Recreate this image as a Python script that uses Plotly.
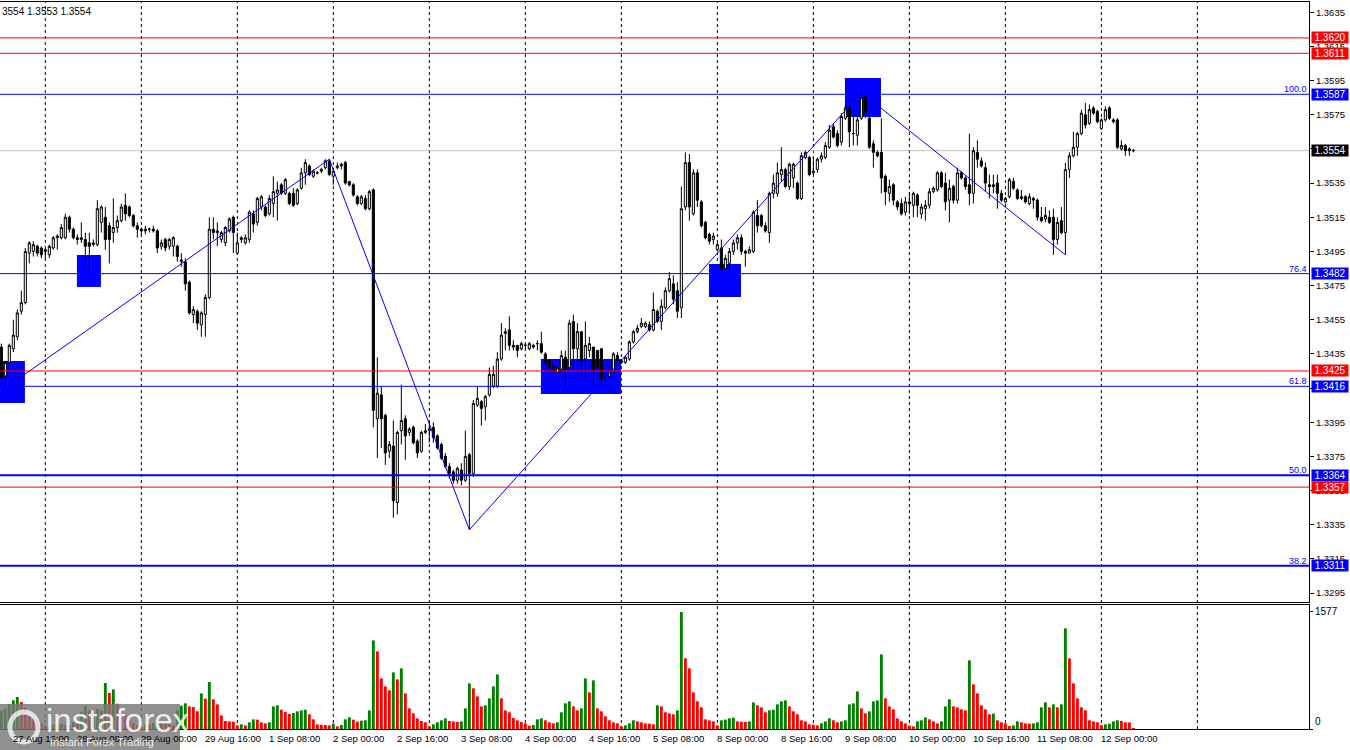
import pandas as pd
import plotly.graph_objects as go

# ---------------- data ----------------
# H1 bars, weekdays only (27 Aug 13:00 .. 12 Sep 08:00)
times = pd.date_range("2025-08-27 13:00", "2025-09-12 08:00", freq="h")
times = times[times.weekday < 5]

open_ = [1.3439,1.3422,1.3430,1.3438,1.3445,1.3460,1.3465,1.3494,1.3495,1.3498,1.3497,1.3495,
1.3493,1.3497,1.3503,1.3503,1.3503,1.3515,1.3508,1.3503,1.3502,1.3502,1.3500,1.3499,
1.3499,1.3512,1.3515,1.3510,1.3506,1.3509,1.3513,1.3522,1.3521,1.3516,1.3510,1.3508,
1.3507,1.3508,1.3508,1.3507,1.3498,1.3502,1.3498,1.3498,1.3498,1.3489,1.3489,1.3477,
1.3458,1.3460,1.3452,1.3458,1.3468,1.3508,1.3506,1.3502,1.3500,1.3507,1.3515,1.3494,
1.3502,1.3500,1.3502,1.3517,1.3512,1.3521,1.3521,1.3517,1.3523,1.3529,1.3534,1.3529,
1.3529,1.3529,1.3523,1.3532,1.3541,1.3545,1.3539,1.3541,1.3542,1.3544,1.3548,1.3539,
1.3544,1.3545,1.3547,1.3536,1.3534,1.3527,1.3523,1.3526,1.3520,1.3531,1.3397,1.3411,
1.3399,1.3378,1.3381,1.3348,1.3390,1.3397,1.3389,1.3392,1.3384,1.3378,1.3389,1.3390,
1.3392,1.3387,1.3382,1.3375,1.3369,1.3366,1.3361,1.3367,1.3361,1.3376,1.3365,1.3405,
1.3407,1.3404,1.3411,1.3416,1.3416,1.3432,1.3447,1.3449,1.3440,1.3440,1.3438,1.3440,
1.3438,1.3440,1.3441,1.3441,1.3435,1.3431,1.3428,1.3424,1.3426,1.3433,1.3427,1.3454,
1.3438,1.3448,1.3432,1.3437,1.3439,1.3437,1.3438,1.3421,1.3422,1.3425,1.3434,1.3431,
1.3430,1.3432,1.3442,1.3448,1.3451,1.3451,1.3452,1.3449,1.3460,1.3454,1.3462,1.3472,
1.3476,1.3472,1.3462,1.3521,1.3547,1.3517,1.3541,1.3524,1.3512,1.3505,1.3502,1.3496,
1.3497,1.3485,1.3488,1.3495,1.3500,1.3503,1.3495,1.3494,1.3495,1.3516,1.3516,1.3510,
1.3506,1.3529,1.3529,1.3540,1.3543,1.3533,1.3538,1.3535,1.3526,1.3550,1.3550,1.3541,
1.3543,1.3549,1.3550,1.3556,1.3568,1.3564,1.3559,1.3573,1.3579,1.3564,1.3563,1.3573,
1.3586,1.3573,1.3558,1.3553,1.3553,1.3539,1.3529,1.3534,1.3524,1.3523,1.3518,1.3524,
1.3522,1.3528,1.3517,1.3520,1.3522,1.3530,1.3531,1.3541,1.3535,1.3525,1.3533,1.3525,
1.3541,1.3538,1.3534,1.3529,1.3553,1.3548,1.3544,1.3534,1.3534,1.3535,1.3529,1.3524,
1.3527,1.3536,1.3531,1.3527,1.3527,1.3523,1.3526,1.3525,1.3515,1.3514,1.3515,1.3515,
1.3502,1.3513,1.3506,1.3543,1.3551,1.3556,1.3564,1.3575,1.3570,1.3579,1.3577,1.3567,
1.3572,1.3579,1.3572,1.3572,1.3555,1.3557,1.3555,1.3554]

high = [1.3441,1.3431,1.3441,1.3455,1.3461,1.3472,1.3497,1.3501,1.3501,1.3499,1.3498,1.3497,
1.3499,1.3504,1.3505,1.3511,1.3517,1.3516,1.3509,1.3505,1.3512,1.3506,1.3506,1.3502,
1.3525,1.3522,1.3521,1.3512,1.3526,1.3516,1.3523,1.3529,1.3522,1.3517,1.3512,1.3509,
1.3510,1.3509,1.3510,1.3508,1.3502,1.3503,1.3503,1.3504,1.3499,1.3494,1.3491,1.3478,
1.3463,1.3461,1.3460,1.3470,1.3515,1.3515,1.3512,1.3507,1.3510,1.3515,1.3516,1.3506,
1.3504,1.3505,1.3519,1.3519,1.3527,1.3528,1.3522,1.3528,1.3539,1.3536,1.3535,1.3538,
1.3530,1.3532,1.3532,1.3544,1.3549,1.3546,1.3543,1.3542,1.3544,1.3549,1.3549,1.3544,
1.3547,1.3547,1.3548,1.3536,1.3535,1.3528,1.3528,1.3528,1.3531,1.3532,1.3433,1.3416,
1.3400,1.3384,1.3396,1.3390,1.3417,1.3399,1.3392,1.3393,1.3385,1.3390,1.3394,1.3395,
1.3395,1.3388,1.3383,1.3377,1.3371,1.3367,1.3369,1.3371,1.3390,1.3377,1.3408,1.3416,
1.3408,1.3411,1.3427,1.3428,1.3436,1.3453,1.3450,1.3457,1.3443,1.3440,1.3442,1.3441,
1.3442,1.3441,1.3443,1.3448,1.3436,1.3432,1.3429,1.3428,1.3437,1.3437,1.3455,1.3458,
1.3453,1.3448,1.3454,1.3445,1.3439,1.3437,1.3438,1.3423,1.3426,1.3436,1.3436,1.3432,
1.3434,1.3443,1.3449,1.3452,1.3456,1.3454,1.3454,1.3471,1.3461,1.3467,1.3474,1.3483,
1.3481,1.3477,1.3533,1.3553,1.3552,1.3543,1.3543,1.3525,1.3513,1.3506,1.3506,1.3500,
1.3502,1.3493,1.3497,1.3502,1.3505,1.3505,1.3496,1.3498,1.3519,1.3525,1.3517,1.3512,
1.3530,1.3540,1.3547,1.3556,1.3544,1.3547,1.3547,1.3536,1.3553,1.3554,1.3551,1.3550,
1.3550,1.3553,1.3559,1.3569,1.3570,1.3566,1.3576,1.3581,1.3580,1.3575,1.3576,1.3588,
1.3587,1.3575,1.3560,1.3554,1.3573,1.3540,1.3537,1.3535,1.3525,1.3526,1.3527,1.3529,
1.3530,1.3529,1.3523,1.3525,1.3532,1.3533,1.3542,1.3542,1.3541,1.3537,1.3534,1.3544,
1.3542,1.3539,1.3564,1.3556,1.3560,1.3550,1.3547,1.3540,1.3540,1.3540,1.3531,1.3527,
1.3538,1.3538,1.3532,1.3531,1.3528,1.3529,1.3527,1.3526,1.3521,1.3521,1.3519,1.3520,
1.3515,1.3521,1.3547,1.3553,1.3565,1.3565,1.3578,1.3582,1.3581,1.3580,1.3578,1.3573,
1.3580,1.3580,1.3573,1.3573,1.3560,1.3558,1.3556,1.3555]

low = [1.3420,1.3415,1.3429,1.3436,1.3443,1.3458,1.3464,1.3488,1.3492,1.3492,1.3491,1.3491,
1.3491,1.3496,1.3496,1.3502,1.3502,1.3506,1.3502,1.3499,1.3500,1.3487,1.3482,1.3498,
1.3498,1.3506,1.3496,1.3488,1.3500,1.3506,1.3512,1.3513,1.3515,1.3509,1.3503,1.3505,
1.3505,1.3506,1.3506,1.3494,1.3496,1.3495,1.3496,1.3492,1.3489,1.3486,1.3472,1.3458,
1.3453,1.3449,1.3445,1.3445,1.3467,1.3502,1.3498,1.3500,1.3498,1.3506,1.3494,1.3493,
1.3500,1.3499,1.3500,1.3506,1.3510,1.3519,1.3515,1.3516,1.3515,1.3513,1.3528,1.3528,
1.3522,1.3521,1.3522,1.3531,1.3534,1.3539,1.3538,1.3540,1.3541,1.3543,1.3539,1.3534,
1.3543,1.3543,1.3534,1.3533,1.3527,1.3522,1.3522,1.3519,1.3519,1.3392,1.3374,1.3380,
1.3370,1.3374,1.3339,1.3341,1.3382,1.3373,1.3387,1.3382,1.3374,1.3377,1.3388,1.3383,
1.3383,1.3379,1.3373,1.3368,1.3362,1.3359,1.3359,1.3358,1.3360,1.3332,1.3363,1.3404,
1.3393,1.3396,1.3410,1.3415,1.3415,1.3431,1.3437,1.3437,1.3437,1.3433,1.3437,1.3438,
1.3437,1.3438,1.3437,1.3435,1.3428,1.3426,1.3424,1.3423,1.3424,1.3415,1.3426,1.3424,
1.3431,1.3421,1.3421,1.3433,1.3417,1.3426,1.3417,1.3418,1.3421,1.3423,1.3430,1.3429,
1.3429,1.3431,1.3441,1.3447,1.3450,1.3450,1.3448,1.3448,1.3453,1.3449,1.3461,1.3471,
1.3464,1.3456,1.3456,1.3519,1.3513,1.3516,1.3521,1.3509,1.3502,1.3499,1.3499,1.3495,
1.3482,1.3484,1.3482,1.3493,1.3496,1.3493,1.3486,1.3494,1.3494,1.3506,1.3509,1.3506,
1.3500,1.3526,1.3527,1.3536,1.3532,1.3531,1.3532,1.3525,1.3525,1.3549,1.3539,1.3540,
1.3541,1.3547,1.3549,1.3555,1.3561,1.3556,1.3557,1.3572,1.3556,1.3557,1.3557,1.3572,
1.3573,1.3555,1.3544,1.3550,1.3529,1.3522,1.3524,1.3522,1.3519,1.3516,1.3516,1.3517,
1.3515,1.3515,1.3514,1.3513,1.3520,1.3529,1.3530,1.3532,1.3519,1.3512,1.3523,1.3523,
1.3537,1.3531,1.3522,1.3523,1.3544,1.3544,1.3530,1.3526,1.3529,1.3520,1.3524,1.3523,
1.3526,1.3531,1.3525,1.3525,1.3523,1.3522,1.3520,1.3513,1.3512,1.3512,1.3511,1.3493,
1.3499,1.3505,1.3493,1.3538,1.3550,1.3551,1.3563,1.3567,1.3569,1.3575,1.3570,1.3566,
1.3571,1.3572,1.3570,1.3555,1.3554,1.3551,1.3551,1.3553]

close = [1.3421,1.3430,1.3440,1.3446,1.3459,1.3465,1.3495,1.3500,1.3499,1.3494,1.3493,1.3496,
1.3498,1.3503,1.3504,1.3509,1.3515,1.3508,1.3503,1.3502,1.3503,1.3498,1.3498,1.3500,
1.3520,1.3521,1.3502,1.3502,1.3509,1.3513,1.3521,1.3517,1.3516,1.3510,1.3508,1.3507,
1.3508,1.3508,1.3507,1.3497,1.3500,1.3497,1.3502,1.3503,1.3492,1.3490,1.3476,1.3459,
1.3461,1.3453,1.3459,1.3468,1.3508,1.3506,1.3507,1.3506,1.3509,1.3514,1.3506,1.3500,
1.3503,1.3503,1.3518,1.3511,1.3526,1.3527,1.3516,1.3526,1.3530,1.3531,1.3529,1.3537,
1.3523,1.3522,1.3531,1.3541,1.3547,1.3540,1.3542,1.3541,1.3543,1.3548,1.3540,1.3542,
1.3545,1.3546,1.3535,1.3534,1.3528,1.3523,1.3527,1.3520,1.3530,1.3402,1.3412,1.3397,
1.3377,1.3382,1.3349,1.3389,1.3396,1.3387,1.3391,1.3383,1.3377,1.3389,1.3390,1.3391,
1.3386,1.3380,1.3374,1.3369,1.3365,1.3361,1.3368,1.3361,1.3375,1.3365,1.3406,1.3409,
1.3403,1.3410,1.3423,1.3423,1.3432,1.3446,1.3448,1.3440,1.3439,1.3437,1.3441,1.3440,
1.3441,1.3439,1.3441,1.3436,1.3430,1.3427,1.3425,1.3427,1.3434,1.3426,1.3453,1.3438,
1.3448,1.3431,1.3440,1.3441,1.3426,1.3427,1.3420,1.3421,1.3425,1.3435,1.3431,1.3430,
1.3433,1.3442,1.3448,1.3450,1.3453,1.3453,1.3449,1.3461,1.3454,1.3463,1.3472,1.3479,
1.3467,1.3460,1.3520,1.3547,1.3521,1.3541,1.3525,1.3510,1.3503,1.3501,1.3504,1.3499,
1.3485,1.3491,1.3495,1.3500,1.3503,1.3495,1.3494,1.3496,1.3518,1.3510,1.3510,1.3507,
1.3529,1.3535,1.3541,1.3543,1.3533,1.3546,1.3546,1.3526,1.3551,1.3553,1.3540,1.3542,
1.3549,1.3551,1.3557,1.3566,1.3562,1.3557,1.3574,1.3579,1.3565,1.3564,1.3572,1.3585,
1.3576,1.3556,1.3553,1.3551,1.3538,1.3530,1.3533,1.3525,1.3521,1.3517,1.3524,1.3523,
1.3529,1.3522,1.3521,1.3522,1.3530,1.3532,1.3541,1.3533,1.3524,1.3532,1.3525,1.3541,
1.3538,1.3533,1.3529,1.3554,1.3549,1.3545,1.3535,1.3533,1.3533,1.3529,1.3525,1.3526,
1.3537,1.3532,1.3526,1.3526,1.3524,1.3527,1.3525,1.3515,1.3513,1.3516,1.3512,1.3502,
1.3512,1.3506,1.3543,1.3551,1.3556,1.3564,1.3576,1.3569,1.3578,1.3576,1.3571,1.3572,
1.3578,1.3573,1.3571,1.3556,1.3557,1.3554,1.3554,1.3554]

volume = [251,274,332,386,431,364,287,184,139,117,72,45,
36,63,45,72,54,45,94,72,229,314,251,265,
269,251,620,485,534,341,251,184,117,81,49,36,
63,58,81,94,81,72,63,49,251,314,346,305,
296,238,480,409,633,400,332,184,108,103,99,49,
63,49,90,130,126,90,76,90,305,319,260,229,
202,216,238,251,260,198,130,63,58,54,49,72,
36,54,130,157,126,99,112,117,251,1194,1046,682,
575,521,763,669,817,480,278,211,144,108,90,36,
63,90,117,144,108,103,94,103,278,615,548,440,
305,319,413,575,736,413,251,225,148,117,94,76,
45,54,130,144,117,90,76,90,225,346,373,305,
251,278,682,494,656,278,238,171,117,90,76,36,
49,76,117,103,90,76,72,63,319,305,225,211,
198,251,1577,952,817,494,373,292,130,117,103,49,
117,126,144,153,103,99,94,103,359,319,292,225,
251,260,332,373,386,305,238,198,117,103,63,58,
49,76,103,144,117,90,103,117,332,346,507,278,
211,238,373,386,1006,413,305,265,144,103,76,45,
36,103,117,157,130,103,76,103,305,400,305,292,
265,251,925,602,480,319,265,198,207,117,90,76,
40,49,103,90,76,72,76,90,292,359,292,332,
292,332,1356,952,615,413,292,251,117,103,90,54,
63,72,103,117,108,90,88,9]

# horizontal levels (price, kind)
level_prices = [1.3620, 1.3611, 1.3587, 1.3482, 1.3425, 1.3416, 1.3364, 1.3357, 1.3311]
level_kinds = ["res", "res", "fib", "fib", "res", "fib", "fib", "res", "fib"]
fib_labels = {1.3587: "100.0", 1.3482: "76.4", 1.3416: "61.8", 1.3364: "50.0", 1.3311: "38.2"}
bid_price = 1.3554

# zigzag (bar index, price)
zz_bar = [1, 82, 117, 215, 266]
zz_price = [1.3415, 1.3549, 1.3332, 1.3588, 1.3493]

# blue zones (bar from, bar to, price low, price high)
zone_from = [-1.0, 18.9, 134.9, 176.9, 210.9]
zone_to = [5.9, 24.9, 154.9, 184.9, 219.9]
zone_low = [1.34062, 1.34742, 1.34115, 1.34683, 1.35737]
zone_high = [1.34308, 1.34929, 1.34320, 1.34876, 1.35965]

price_ticks = [1.3295 + 0.0020 * k for k in range(18)]
vol_max_label = 1577

# ---------------- figure ----------------
bars = list(range(len(times)))
FONT = "Liberation Sans"
BLUE = "#0000FF"
RED = "#FF0000"

vol_colors = []
for i, v in enumerate(volume):
    vol_colors.append("#008000" if i == 0 or v > volume[i - 1] else "#FF0000")

fig = go.Figure()
fig.add_trace(go.Candlestick(
    x=bars, open=open_, high=high, low=low, close=close,
    increasing=dict(line=dict(color="black", width=1), fillcolor="white"),
    decreasing=dict(line=dict(color="black", width=1), fillcolor="black"),
    whiskerwidth=0, hoverinfo="skip", showlegend=False, xaxis="x", yaxis="y"))

fig.add_trace(go.Scatter(x=zz_bar, y=zz_price, mode="lines",
                         line=dict(color=BLUE, width=1), hoverinfo="skip",
                         showlegend=False, xaxis="x", yaxis="y"))

fig.add_trace(go.Bar(x=bars, y=volume, marker=dict(color=vol_colors, line=dict(width=0)),
                     width=0.72, hoverinfo="skip", showlegend=False,
                     xaxis="x2", yaxis="y2"))

shapes = []
# zones
for a, b, lo, hi in zip(zone_from, zone_to, zone_low, zone_high):
    shapes.append(dict(type="rect", xref="x", yref="y", x0=a, x1=b, y0=lo, y1=hi,
                       fillcolor=BLUE, line=dict(width=0), layer="below"))
# day separators
day_bars = [i for i, t in enumerate(times) if t.hour == 0]
day_bars.append(day_bars[-1] + 24)
for d in day_bars:
    shapes.append(dict(type="line", xref="x", yref="paper", x0=d, x1=d, y0=0, y1=1,
                       line=dict(color="black", width=1, dash="3px,3px"), layer="below"))
# bid line
shapes.append(dict(type="line", xref="paper", yref="y", x0=0, x1=1, y0=bid_price, y1=bid_price,
                   line=dict(color="#C0C0C0", width=1), layer="below"))
# levels
for p, k in zip(level_prices, level_kinds):
    col = RED if k == "res" else BLUE
    w = 2 if p in (1.3364, 1.3311) else 1
    shapes.append(dict(type="line", xref="paper", yref="y", x0=0, x1=1, y0=p, y1=p,
                       line=dict(color=col, width=w), layer="above"))

# watermark box
shapes.append(dict(type="rect", xref="paper", yref="paper", x0=0, x1=180 / 1309,
                   y0=-21 / 727, y1=25 / 727, fillcolor="rgba(120,120,120,0.82)",
                   line=dict(width=0), layer="above"))
shapes.append(dict(type="circle", xref="paper", yref="paper", x0=10 / 1309, x1=38 / 1309,
                   y0=(729 - 742) / 727, y1=(729 - 712) / 727,
                   line=dict(color="rgba(255,255,255,0.75)", width=5), layer="above"))

annotations = []
# price boxes
box_items = [(p, RED if k == "res" else BLUE) for p, k in zip(level_prices, level_kinds)]
box_items.append((bid_price, "black"))
for p, col in box_items:
    annotations.append(dict(xref="paper", yref="y", x=1, y=p, xanchor="left", yanchor="middle",
                            xshift=2, text=f"{p:.4f}", showarrow=False, bgcolor=col,
                            width=36, height=11, align="center", borderpad=0,
                            font=dict(family=FONT, size=10, color="white")))
# fib labels
for p, t in fib_labels.items():
    annotations.append(dict(xref="paper", yref="y", x=1, y=p, xanchor="right", yanchor="bottom",
                            xshift=-1, yshift=-1, text=t, showarrow=False, borderpad=0,
                            font=dict(family=FONT, size=9, color=BLUE)))
# time labels
for i in range(3, len(times), 16):
    t = times[i]
    annotations.append(dict(xref="x2", yref="paper", x=i, y=0, xanchor="left", yanchor="top",
                            xshift=-2, yshift=-2, text=f"{t.day} {t.strftime('%b %H:%M')}",
                            showarrow=False, font=dict(family=FONT, size=9.5, color="black")))
# volume axis labels
annotations.append(dict(xref="paper", yref="y2", x=1, y=vol_max_label, xanchor="left",
                        yanchor="middle", xshift=4, text=str(vol_max_label), showarrow=False,
                        font=dict(family=FONT, size=10, color="black")))
annotations.append(dict(xref="paper", yref="y2", x=1, y=0, xanchor="left", yanchor="bottom",
                        xshift=4, text="0", showarrow=False,
                        font=dict(family=FONT, size=10, color="black")))
# header
annotations.append(dict(xref="paper", yref="paper", x=0, y=1, xanchor="left", yanchor="top",
                        yshift=-2, text="3554 1.3553 1.3554", showarrow=False,
                        font=dict(family=FONT, size=10, color="black")))
# watermark text
annotations.append(dict(xref="paper", yref="paper", x=44 / 1309, y=(729 - 720) / 727,
                        xanchor="left", yanchor="middle", text="instaforex", showarrow=False,
                        font=dict(family=FONT, size=33, color="rgba(255,255,255,0.85)")))
annotations.append(dict(xref="paper", yref="paper", x=48 / 1309, y=(729 - 742) / 727,
                        xanchor="left", yanchor="middle", text="Instant Forex Trading",
                        showarrow=False,
                        font=dict(family=FONT, size=11, color="rgba(255,255,255,0.85)")))

x_range = [-0.33, 326.9]
fig.update_layout(
    width=1350, height=750,
    margin=dict(l=0, r=41, t=2, b=21),
    paper_bgcolor="white", plot_bgcolor="white",
    font=dict(family=FONT, size=10, color="black"),
    boxgap=0.25,
    showlegend=False,
    shapes=shapes, annotations=annotations,
    xaxis=dict(domain=[0, 1], range=x_range, anchor="y", showgrid=False, zeroline=False,
               showticklabels=False, ticks="", showline=True, mirror=True,
               linecolor="black", linewidth=1, rangeslider=dict(visible=False)),
    yaxis=dict(domain=[127 / 727, 1], range=[1.328973, 1.364103], side="right",
               showgrid=False, zeroline=False, tickvals=price_ticks,
               ticktext=[f"{v:.4f}" for v in price_ticks], ticks="outside", ticklen=4,
               tickcolor="black", showline=True, linecolor="black", linewidth=1,
               automargin=False,
               tickfont=dict(family=FONT, size=9.5, color="black")),
    xaxis2=dict(domain=[0, 1], range=x_range, anchor="y2", matches="x", showgrid=False,
                zeroline=False, showticklabels=False, ticks="", showline=True, mirror=True,
                linecolor="black", linewidth=1),
    yaxis2=dict(domain=[0, 124 / 727], range=[0, 1671], side="right", showgrid=False,
                zeroline=False, tickvals=[0, vol_max_label], showticklabels=False,
                ticks="outside", ticklen=3, tickcolor="black", showline=True,
                linecolor="black", linewidth=1, automargin=False),
)

fig.write_html(
    "out.html",
    config={"displayModeBar": False},
    post_script="document.body.style.margin='0';document.body.style.overflow='hidden';",
)
